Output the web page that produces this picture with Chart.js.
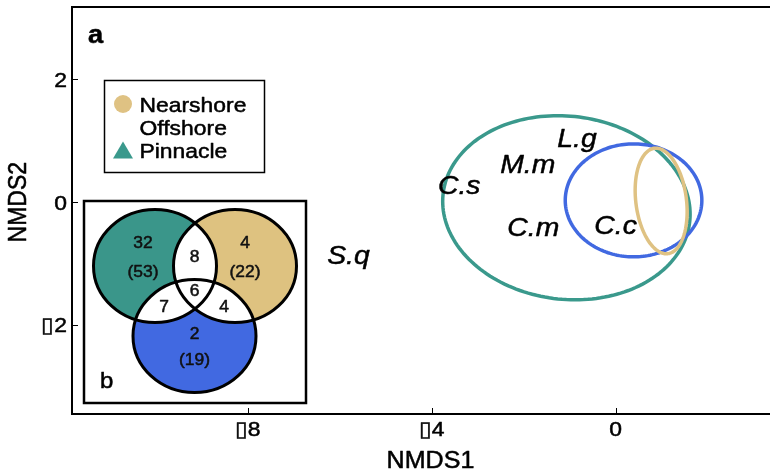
<!DOCTYPE html>
<html>
<head>
<meta charset="utf-8">
<script src="https://cdn.jsdelivr.net/npm/chart.js@4/dist/chart.umd.min.js"></script>
<style>
  html, body { margin: 0; padding: 0; background: #fff; overflow: hidden; }
  #wrap { position: relative; width: 800px; height: 470px; }
</style>
</head>
<body>
<div id="wrap"><canvas id="c" width="800" height="470"></canvas></div>
<script>
// Species positions in NMDS space
const speciesNames = ['C.s', 'M.m', 'L.g', 'C.m', 'C.c', 'S.q'];
const speciesX = [-3.40, -1.91, -0.84, -1.79, 0.00, -5.81];
const speciesY = [0.29, 0.62, 1.05, -0.40, -0.37, -0.85];

// Site-type dispersion ellipses: centre, half-extent on each axis, x-y correlation
const groupNames = ['Nearshore', 'Offshore', 'Pinnacle'];
const groupColors = ['#dfc283', '#4169e1', '#3a998c'];
const groupMarkers = ['circle', null, 'triangle'];
const ellipseCx = [0.99, 0.39, -1.07];
const ellipseCy = [0.02, 0.03, -0.09];
const ellipseSx = [0.565, 1.485, 2.69];
const ellipseSy = [0.86, 0.92, 1.50];
const ellipseR = [-0.20, 0.00, -0.07];

// Axis ticks
const xTicks = [-8, -4, 0];
const yTicks = [-2, 0, 2];

// Venn: species counts per site type (unique, total) and shared
const vennSets = ['Pinnacle', 'Nearshore', 'Offshore'];
const vennColors = ['#3a968a', '#dec280', '#4169e1'];
const vennUnique = [32, 4, 2];
const vennTotal = [53, 22, 19];
const vennPairs = [8, 7, 4];   // Pinnacle∩Nearshore, Pinnacle∩Offshore, Nearshore∩Offshore
const vennAll = 6;

const FONT = "'Liberation Sans', Arial, sans-serif";
const WIDEN = 1.09;   // glyphs are drawn slightly wide

function tickText(v) {
  return v < 0 ? '\u25AF' + Math.abs(v) : String(v);
}

// draw text horizontally widened around its anchor
function wideText(ctx, text, x, y, font, align, color, rot) {
  ctx.save();
  ctx.translate(x, y);
  ctx.scale(WIDEN, 1);
  if (rot) ctx.rotate(rot);
  ctx.font = font;
  ctx.textAlign = align;
  ctx.textBaseline = 'alphabetic';
  ctx.fillStyle = color;
  ctx.strokeStyle = color;
  ctx.lineWidth = 0.5;
  ctx.lineJoin = 'round';
  ctx.fillText(text, 0, 0);
  ctx.strokeText(text, 0, 0);
  ctx.restore();
}

// Frame, inward tick marks, tick labels and axis titles
const axesPlugin = {
  id: 'axesDecor',
  afterDraw(chart) {
    const { ctx, chartArea: a, scales: { x, y } } = chart;
    ctx.save();
    ctx.strokeStyle = '#000';
    ctx.lineWidth = 2;
    ctx.strokeRect(a.left, a.top, a.right - a.left, a.bottom - a.top);
    ctx.lineWidth = 1;
    ctx.beginPath();
    xTicks.forEach(v => {
      const px = Math.round(x.getPixelForValue(v)) + 0.5;
      ctx.moveTo(px, a.bottom); ctx.lineTo(px, a.bottom - 6);
    });
    yTicks.forEach(v => {
      const py = Math.round(y.getPixelForValue(v)) + 0.5;
      ctx.moveTo(a.left, py); ctx.lineTo(a.left + 6, py);
    });
    ctx.stroke();
    ctx.restore();

    const tf = '21px ' + FONT;
    xTicks.forEach(v => wideText(ctx, tickText(v), x.getPixelForValue(v), a.bottom + 21.5, tf, 'center', '#000'));
    yTicks.forEach(v => wideText(ctx, tickText(v), a.left - 5, y.getPixelForValue(v) + 7.5, tf, 'right', '#000'));

    const af = '23px ' + FONT;
    wideText(ctx, 'NMDS1', (a.left + a.right) / 2, 468, af, 'center', '#000');
    wideText(ctx, 'NMDS2', 26, y.getPixelForValue(0), af, 'center', '#000', -Math.PI / 2);
  }
};

// Dispersion ellipses drawn through the chart scales
const ellipsePlugin = {
  id: 'ellipses',
  beforeDatasetsDraw(chart) {
    const { ctx, scales: { x, y } } = chart;
    ctx.save();
    [2, 1, 0].forEach(g => {
      const s = Math.sqrt(1 - ellipseR[g] * ellipseR[g]);
      ctx.beginPath();
      for (let k = 0; k <= 180; k++) {
        const t = k / 180 * Math.PI * 2;
        const dx = ellipseSx[g] * Math.cos(t);
        const dy = ellipseSy[g] * (ellipseR[g] * Math.cos(t) + s * Math.sin(t));
        const px = x.getPixelForValue(ellipseCx[g] + dx);
        const py = y.getPixelForValue(ellipseCy[g] + dy);
        if (k === 0) ctx.moveTo(px, py); else ctx.lineTo(px, py);
      }
      ctx.closePath();
      ctx.strokeStyle = groupColors[g];
      ctx.lineWidth = 3.5;
      ctx.stroke();
    });
    ctx.restore();
  }
};

// Species names at their points
const labelPlugin = {
  id: 'speciesLabels',
  afterDatasetsDraw(chart) {
    const { ctx } = chart;
    const meta = chart.getDatasetMeta(0);
    meta.data.forEach((pt, i) => {
      wideText(ctx, speciesNames[i], pt.x, pt.y + 0.358 * 26, 'italic 26px ' + FONT, 'center', '#000');
    });
  }
};

// Legend, panel letter and Venn inset
const overlayPlugin = {
  id: 'overlay',
  afterDraw(chart) {
    const { ctx } = chart;
    ctx.save();

    // panel letter
    wideText(ctx, 'a', 88, 43, 'bold 25px ' + FONT, 'left', '#000');

    // legend
    ctx.fillStyle = '#fff';
    ctx.fillRect(104.5, 80.5, 160, 92);
    ctx.strokeStyle = '#000';
    ctx.lineWidth = 1.5;
    ctx.strokeRect(104.5, 80.5, 160, 92);
    const rows = [104, 127, 150.5];
    groupNames.forEach((name, i) => {
      const cy = rows[i];
      ctx.fillStyle = groupColors[i];
      if (groupMarkers[i] === 'circle') {
        ctx.beginPath(); ctx.arc(123, cy, 9, 0, Math.PI * 2); ctx.fill();
      } else if (groupMarkers[i] === 'triangle') {
        ctx.beginPath();
        ctx.moveTo(123, cy - 9); ctx.lineTo(133, cy + 8); ctx.lineTo(113, cy + 8);
        ctx.closePath(); ctx.fill();
      }
      wideText(ctx, name, 139.5, cy + 0.358 * 21, '21px ' + FONT, 'left', '#000');
    });

    // Venn inset
    ctx.fillStyle = '#fff';
    ctx.fillRect(84, 201, 222, 202);
    ctx.strokeStyle = '#000';
    ctx.lineWidth = 2.5;
    ctx.strokeRect(84, 201, 222, 202);

    const circ = [
      { x: 155, y: 266 },
      { x: 235, y: 266 },
      { x: 194.5, y: 336 }
    ];
    const rx = 61.5, ry = 56.5;
    const path = c => { ctx.beginPath(); ctx.ellipse(c.x, c.y, rx, ry, 0, 0, Math.PI * 2); };
    circ.forEach((c, i) => { path(c); ctx.fillStyle = vennColors[i]; ctx.fill(); });
    [[0, 1], [0, 2], [1, 2]].forEach(([i, j]) => {
      ctx.save(); path(circ[i]); ctx.clip(); path(circ[j]); ctx.fillStyle = '#fff'; ctx.fill(); ctx.restore();
    });
    ctx.strokeStyle = '#000';
    ctx.lineWidth = 3;
    circ.forEach(c => { path(c); ctx.stroke(); });

    const vf = '16px ' + FONT;
    const off = 0.358 * 16;
    const uniquePos = [[143, 242, 271], [245, 242, 271], [194.5, 333, 359]];
    vennSets.forEach((s, i) => {
      const [px, y1, y2] = uniquePos[i];
      wideText(ctx, String(vennUnique[i]), px, y1 + off, vf, 'center', '#111');
      wideText(ctx, '(' + vennTotal[i] + ')', px, y2 + off, vf, 'center', '#111');
    });
    const pairPos = [[194.5, 256], [164, 306], [224, 306]];
    vennPairs.forEach((n, k) => wideText(ctx, String(n), pairPos[k][0], pairPos[k][1] + off, vf, 'center', '#111'));
    wideText(ctx, String(vennAll), 194.5, 290 + off, vf, 'center', '#111');

    wideText(ctx, 'b', 100, 388, '22px ' + FONT, 'left', '#000');
    ctx.restore();
  }
};

new Chart(document.getElementById('c'), {
  type: 'scatter',
  data: {
    datasets: [{
      label: 'species',
      data: speciesNames.map((n, i) => ({ x: speciesX[i], y: speciesY[i] })),
      pointRadius: 0,
      pointHoverRadius: 0
    }]
  },
  options: {
    responsive: false,
    animation: false,
    devicePixelRatio: 1,
    events: [],
    layout: { padding: { left: 0, top: 7, right: 11, bottom: 0 }, autoPadding: false },
    plugins: { legend: { display: false }, tooltip: { enabled: false } },
    scales: {
      x: {
        type: 'linear', min: -11.82, max: 3.77,
        afterBuildTicks: s => { s.ticks = xTicks.map(v => ({ value: v })); },
        afterFit: s => { s.height = 56; s.paddingLeft = 0; s.paddingRight = 0; },
        grid: { display: false, drawTicks: false },
        border: { display: false },
        ticks: { display: false }
      },
      y: {
        type: 'linear', min: -3.45, max: 3.18,
        afterBuildTicks: s => { s.ticks = yTicks.map(v => ({ value: v })); },
        afterFit: s => { s.width = 72; s.paddingTop = 0; s.paddingBottom = 0; },
        grid: { display: false, drawTicks: false },
        border: { display: false },
        ticks: { display: false }
      }
    }
  },
  plugins: [ellipsePlugin, labelPlugin, axesPlugin, overlayPlugin]
});
</script>
</body>
</html>
